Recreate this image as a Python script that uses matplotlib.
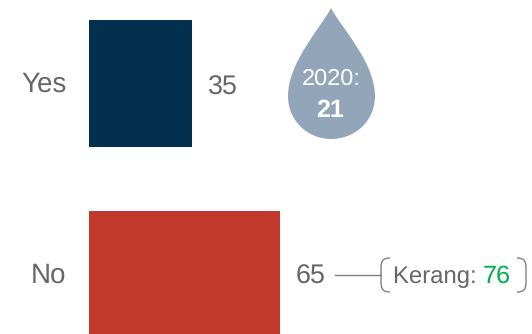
import matplotlib
matplotlib.use('Agg')
from matplotlib import pyplot as plt
from matplotlib.patches import PathPatch
from matplotlib.path import Path

categories = ['Yes', 'No']
values = [35, 65]
bar_colors = ['#03304f', '#c0392b']
drop_year = '2020:'
drop_value = 21
note_label = 'Kerang: '
note_value = 76

GREY = '#666666'
plt.rcParams['font.family'] = ['Liberation Sans', 'DejaVu Sans']
plt.rcParams['text.hinting'] = 'no_hinting'

fig = plt.figure(figsize=(5.32, 3.34), dpi=100)

# bars live in value units, 2.94 px per unit starting at x=89
axes = fig.add_axes([0, 0, 1, 1])
axes.set_xlim(-89 / 2.94, (532 - 89) / 2.94)
axes.set_ylim((334 - 83.5) / 191, -83.5 / 191)
axes.axis('off')
axes.barh(range(len(values)), values, height=127 / 191, color=bar_colors, linewidth=0)

# overlay in pixel coordinates for the callouts
over = fig.add_axes([0, 0, 1, 1])
over.set_xlim(0, 532)
over.set_ylim(334, 0)
over.axis('off')

baselines = [92, 283]
value_baselines = [94.5, 284]
for i, (cat, val) in enumerate(zip(categories, values)):
    over.text(66.5, baselines[i], cat, ha='right', va='baseline', fontsize=20, color=GREY)
    over.text(89 + val * 2.94 + 16, value_baselines[i], str(val), ha='left', va='baseline',
              fontsize=19.4, color=GREY)

# water drop
drop = Path(
    [(331, 8), (322, 26), (288, 62), (288, 96), (288, 121), (308, 139), (331, 139),
     (355, 139), (375, 121), (375, 96), (375, 62), (340, 26), (331, 8)],
    [Path.MOVETO] + [Path.CURVE4] * 12)
over.add_patch(PathPatch(drop, facecolor='#93a5b8', edgecolor='none'))
over.text(331, 85, drop_year, ha='center', va='baseline', fontsize=16.9, color='white')
over.text(330.5, 117, str(drop_value), ha='center', va='baseline', fontsize=18,
          color='white', fontweight='bold')

# leader line and brackets around the note
over.plot([335, 381], [274.5, 274.5], color='#808080', lw=1)
left = Path([(390, 258), (383, 258), (381, 261), (381, 268), (381, 282), (381, 289), (383, 292), (390, 292)],
            [Path.MOVETO, Path.CURVE4, Path.CURVE4, Path.CURVE4, Path.LINETO, Path.CURVE4, Path.CURVE4, Path.CURVE4])
right = Path([(517, 258), (524, 258), (526, 261), (526, 268), (526, 282), (526, 289), (524, 292), (517, 292)],
             [Path.MOVETO, Path.CURVE4, Path.CURVE4, Path.CURVE4, Path.LINETO, Path.CURVE4, Path.CURVE4, Path.CURVE4])
for p in (left, right):
    over.add_patch(PathPatch(p, facecolor='none', edgecolor='#808080', lw=1))
over.text(393, 283, note_label, ha='left', va='baseline', fontsize=17.2, color=GREY)
over.text(483, 283, str(note_value), ha='left', va='baseline', fontsize=18.2, color='#00b050')

plt.savefig('out.png', dpi=100)
